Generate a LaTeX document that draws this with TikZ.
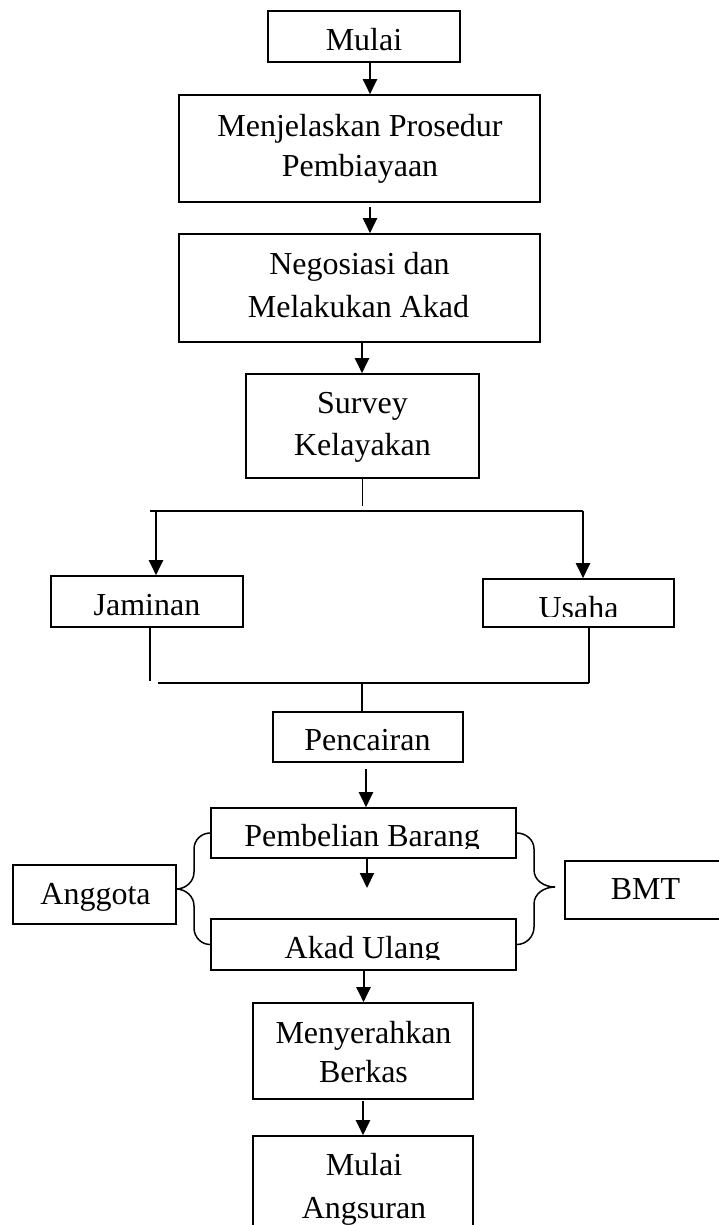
\documentclass[tikz,border=0pt]{standalone}
\usepackage{fontspec}
\setmainfont{Liberation Serif}
\usetikzlibrary{arrows.meta,calc}
\begin{document}
\begin{tikzpicture}[x=1pt,y=-1pt,
  box/.style={draw, line width=1.6pt, inner sep=0pt},
  txt/.style={anchor=base, inner sep=0pt, font=\fontsize{32}{42}\selectfont},
  arr/.style={line width=2pt, -{Triangle[length=15pt,width=14pt]}},
  conn/.style={line width=1.3pt},
  bar/.style={line width=2pt},
  brace/.style={line width=1.5pt}]
\useasboundingbox (0,0) rectangle (719,1225);
\clip (0,0) rectangle (719,1225);

% boxes
\node[box, minimum width=192pt, minimum height=51pt]  (mulai)   at (364,36.5)  {};
\node[box, minimum width=361pt, minimum height=107pt] (jelas)   at (359.5,148.5) {};
\node[box, minimum width=361pt, minimum height=108pt] (nego)    at (359.5,288) {};
\node[box, minimum width=233pt, minimum height=104pt] (survey)  at (362.5,426) {};
\node[box, minimum width=192pt, minimum height=51pt]  (jaminan) at (147,601.5) {};
\node[box, minimum width=191pt, minimum height=48pt]  (usaha)   at (578.5,603) {};
\node[box, minimum width=190pt, minimum height=50pt]  (cair)    at (368,737) {};
\node[box, minimum width=305pt, minimum height=50pt]  (beli)    at (363.5,833) {};
\node[box, minimum width=305pt, minimum height=51pt]  (ulang)   at (363.5,944.5) {};
\node[box, minimum width=163pt, minimum height=59pt]  (anggota) at (94.5,894.5) {};
\node[box, minimum width=161pt, minimum height=58pt]  (bmt)     at (645.5,890) {};
\node[box, minimum width=220pt, minimum height=96pt]  (serah)   at (363,1051) {};
\node[box, minimum width=220pt, minimum height=104pt] (angsur)  at (363,1188) {};

% texts
\node[txt] (tmulai) at (364,51) {Mulai};
\node[txt] (tj1) at (360,137) {Menjelaskan Prosedur};
\node[txt] (tj2) at (360,177) {Pembiayaan};
\node[txt] (tn1) at (359.5,274) {Negosiasi dan};
\node[txt] (tn2) at (358.5,317) {Melakukan Akad};
\node[txt] (ts1) at (362.5,413) {Survey};
\node[txt] (ts2) at (362.5,455) {Kelayakan};
\node[txt] (tjam) at (147,615) {Jaminan};
\begin{scope}
  \clip (480,560) rectangle (680,616);
  \node[txt] (tus) at (578.5,618) {Usaha};
\end{scope}
\node[txt] (tcair) at (367.5,750) {Pencairan};
\begin{scope}
  \clip (212,800) rectangle (515,848);
  \node[txt] (tbeli) at (362,846) {Pembelian Barang};
\end{scope}
\begin{scope}
  \clip (212,910) rectangle (515,959);
  \node[txt] (tulang) at (362.5,958) {Akad Ulang};
\end{scope}
\node[txt] (tang) at (95.5,904) {Anggota};
\node[txt] (tbmt) at (645.5,899) {BMT};
\node[txt] (tser1) at (363.5,1043) {Menyerahkan};
\node[txt] (tser2) at (363.5,1082) {Berkas};
\node[txt] (tan1) at (364,1175) {Mulai};
\node[txt] (tan2) at (364,1218) {Angsuran};

% main arrows
\draw[arr] ([xshift=6pt]mulai.south) coordinate (a1) -- (a1 |- jelas.north);
\draw[arr] ([xshift=10.5pt,yshift=-4pt]jelas.south) coordinate (a2) -- (a2 |- nego.north);
\draw[arr] ([xshift=2.5pt]nego.south) coordinate (a3) -- (a3 |- survey.north);

% split to Jaminan / Usaha
\coordinate (sl) at (150,511);
\coordinate (sr) at (583,511);
\coordinate (ja) at (156,511);
\draw[conn] (survey.south) -- ++(0,27);
\draw[bar] (sl) -- (sr);
\draw[arr] (ja) -- (ja |- jaminan.north);
\draw[arr] (sr) -- (sr |- usaha.north);

% merge to Pencairan
\coordinate (ml) at (150,681);
\coordinate (mb) at (158,683);
\coordinate (mr) at (589,683);
\coordinate (mc) at (362,683);
\draw[conn] (jaminan.south -| ml) -- (ml);
\draw[conn] (usaha.south -| mr) -- (mr);
\draw[bar] (mb) -- (mr);
\draw[conn] (mc) -- (mc |- cair.north);

% lower arrows
\draw[arr] ([xshift=-2pt,yshift=-6pt]cair.south) coordinate (a4) -- (a4 |- beli.north);
\coordinate (bt) at (367,888);
\draw[arr] (bt |- beli.south) -- (bt);
\draw[arr] (ulang.south) -- (ulang.south |- serah.north);
\draw[arr] ([yshift=-1pt]serah.south) -- (angsur.north);

% braces
\draw[brace] (beli.west) to[out=180,in=90] (194,849) -- (194,872)
  to[out=-90,in=0] (176,889) to[out=0,in=90] (194,906) -- (194,928)
  to[out=-90,in=180] (ulang.west);
\draw[brace] (beli.east) to[out=0,in=90] (534,849) -- (534,870)
  to[out=-90,in=180] (555,887) to[out=180,in=90] (534,904) -- (534,927)
  to[out=-90,in=0] (ulang.east);
\end{tikzpicture}
\end{document}
